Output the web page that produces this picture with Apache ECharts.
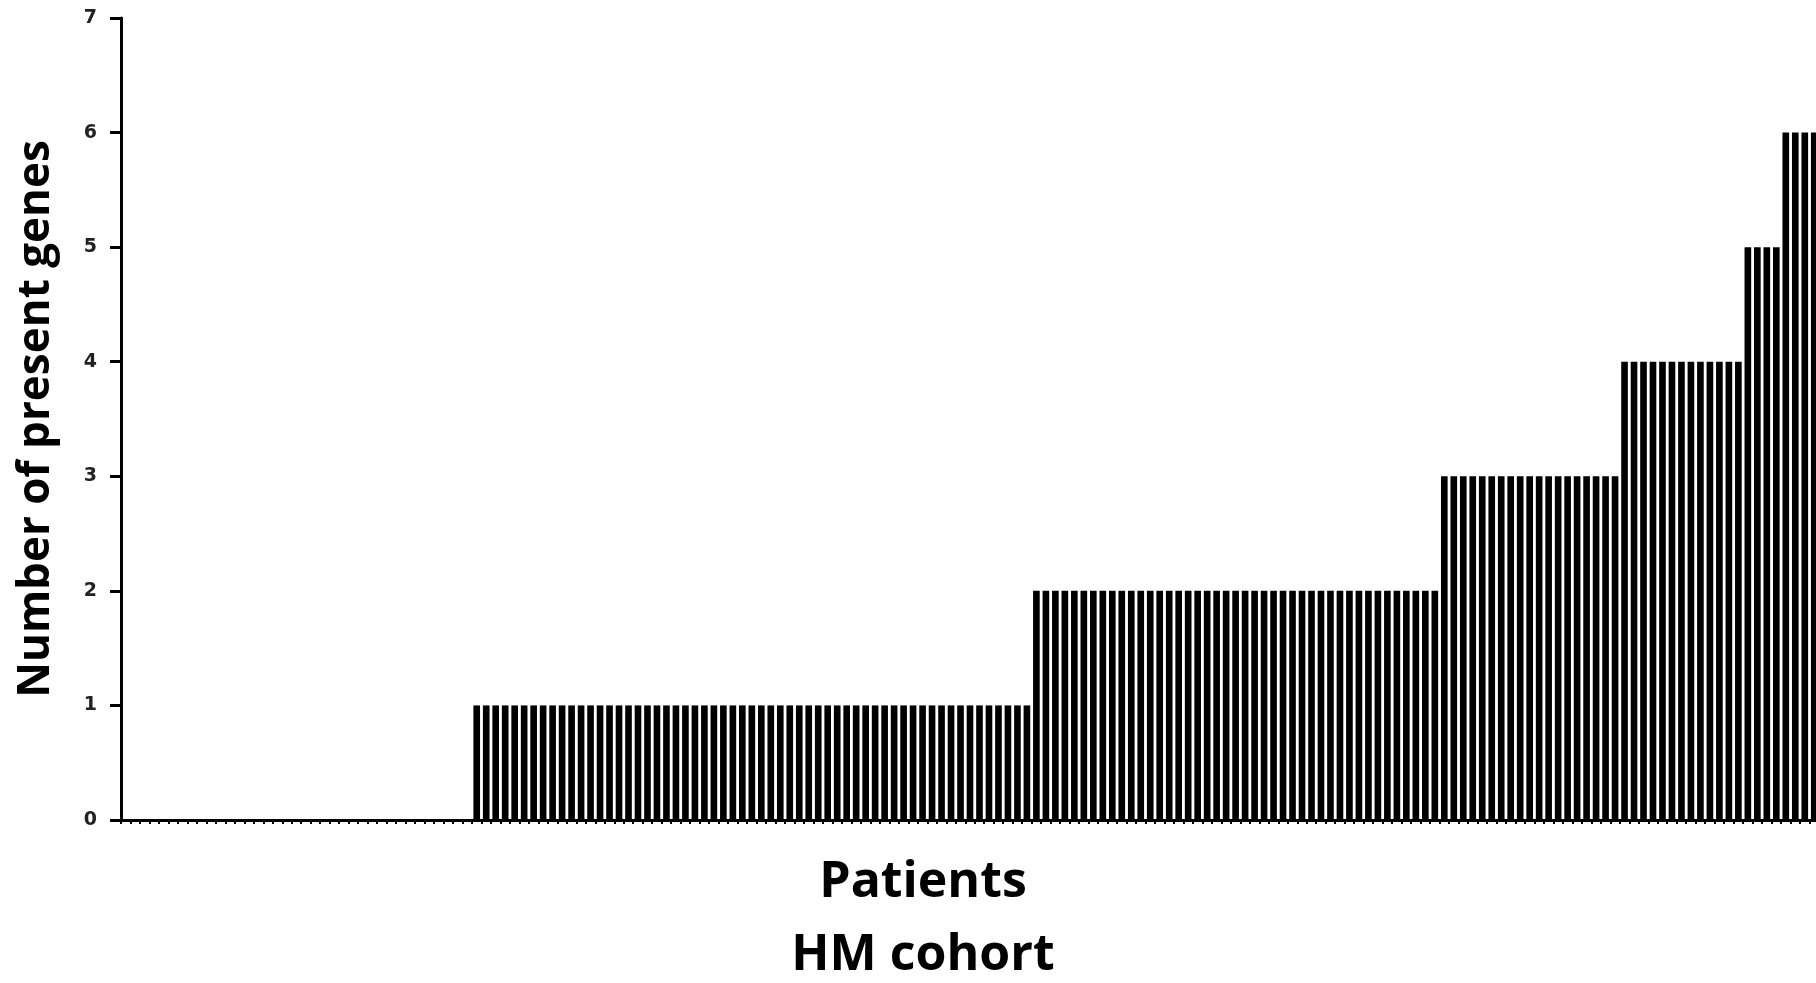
<!DOCTYPE html>
<html>
<head>
<meta charset="utf-8">
<script src="https://cdn.jsdelivr.net/npm/echarts@6/dist/echarts.min.js"></script>
<style>
  html, body { margin: 0; padding: 0; background: #fff; overflow: hidden; }
  #chart { width: 1816px; height: 983px; }
</style>
</head>
<body>
<div id="chart"></div>
<script>
// patients sorted by number of present genes (count of patients per level)
var geneLevels = [0, 1, 2, 3, 4, 5, 6];
var patientCounts = [37, 59, 43, 19, 13, 4, 4];
var yTicks = ['0', '1', '2', '3', '4', '5', '6', '7'];

var patients = [];
var genes = [];
geneLevels.forEach(function (lvl, i) {
  for (var k = 0; k < patientCounts[i]; k++) {
    patients.push('P' + (patients.length + 1));
    genes.push(lvl);
  }
});

var chart = echarts.init(document.getElementById('chart'));
chart.setOption({
  animation: false,
  // last bar is cut by the right edge in the original figure
  grid: { left: 121, right: -3, top: 18, bottom: 163, containLabel: false, outerBoundsMode: 'none' },
  xAxis: {
    type: 'category',
    data: patients,
    name: 'Patients\nHM cohort',
    nameLocation: 'middle',
    nameGap: 26,
    nameTextStyle: {
      fontFamily: 'Open Sans', fontWeight: 'bold', fontSize: 50,
      color: '#000', lineHeight: 73, verticalAlign: 'top',
      padding: [0, 94, 0, 0]
    },
    axisLine: { lineStyle: { color: '#000', width: 3 } },
    axisTick: { show: true, interval: 0, length: 4, lineStyle: { color: '#000', width: 2 } },
    axisLabel: { show: false }
  },
  yAxis: {
    type: 'value',
    min: 0,
    max: 7,
    interval: 1,
    name: 'Number of present genes',
    nameLocation: 'middle',
    nameGap: 63,
    nameRotate: 90,
    nameTextStyle: {
      fontFamily: 'Open Sans', fontWeight: 'bold', fontSize: 44, color: '#000'
    },
    axisLine: { show: true, lineStyle: { color: '#000', width: 3 } },
    axisTick: { show: true, length: 11, lineStyle: { color: '#000', width: 3 } },
    axisLabel: {
      margin: 24,
      fontFamily: 'DejaVu Sans', fontWeight: 'bold', fontSize: 19, color: '#222',
      formatter: function (v) { return yTicks[v]; }
    },
    splitLine: { show: false }
  },
  series: [{
    type: 'bar',
    data: genes,
    barCategoryGap: '30%',
    itemStyle: { color: '#000' }
  }]
});
</script>
</body>
</html>
